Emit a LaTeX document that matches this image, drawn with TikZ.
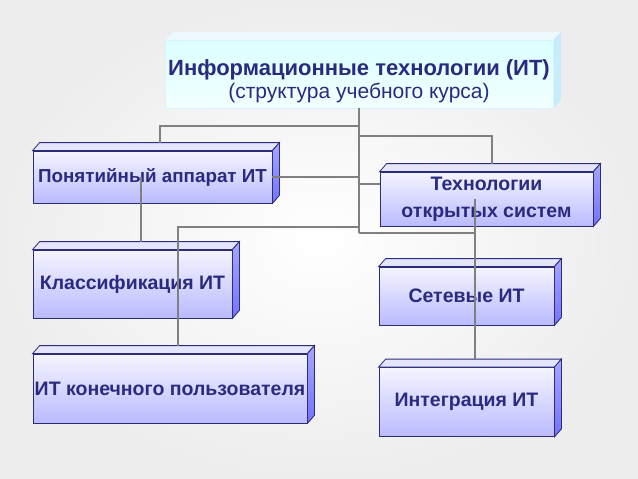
\documentclass[tikz,border=0pt]{standalone}
\usepackage{fontspec}
\setmainfont{Liberation Sans}
\usepackage{tikz}
\usetikzlibrary{calc}
\usepackage{xcolor}
\definecolor{tinte}{RGB}{42,42,128}
\definecolor{kante}{RGB}{44,44,120}
\definecolor{linie}{RGB}{128,128,128}

\begin{document}
\begin{tikzpicture}[x = 1pt, y = -1pt,
    blok/.style = {draw = kante, line width = .8pt, top color = blue!4, bottom color = blue!27!white,
      text = tinte, font = \fontsize{19.5}{27}\selectfont\bfseries, align = center, inner sep = 0},
    verb/.style = {draw = linie, line width = 2pt}]
  \useasboundingbox (0, 0) rectangle (638, 479);
  \shade[inner color = white, outer color = black!7] (0, 0) rectangle (638, 479);
  % kopf
  \fill[cyan!7] (165, 40) -- (173, 32) -- (561, 32) -- (553, 40) -- cycle;
  \fill[cyan!22!white] (553, 40) -- (561, 32) -- (561, 100) -- (553, 108) -- cycle;
  \node[top color = cyan!14!white, bottom color = cyan!5!white, draw = cyan!15!white, text = tinte,
    minimum width = 388, minimum height = 68, inner sep = 0, align = center,
    font = \fontsize{21}{23}\selectfont] (titel) at (359, 74)
    {\rule{0pt}{30pt}{\fontsize{22}{23}\selectfont\bfseries Информационные технологии (ИТ)}\\(структура учебного курса)};
  % bloecke
  \node[blok, minimum width = 239, minimum height = 52, font = \fontsize{18.8}{27}\selectfont\bfseries]
    (ponyat) at (152.5, 177) {Понятийный аппарат ИТ};
  \node[blok, minimum width = 199, minimum height = 68] (klass) at (132.5, 284) {Классификация ИТ};
  \node[blok, minimum width = 274, minimum height = 69] (polz) at (170, 388.5) {ИТ конечного пользователя};
  \node[blok, minimum width = 213, minimum height = 54] (tekhn) at (486.5, 199) {Технологии\\открытых систем};
  \node[blok, minimum width = 175, minimum height = 58] (setev) at (466.5, 296) {Сетевые ИТ};
  \node[blok, minimum width = 175, minimum height = 69] (integr) at (466.5, 402) {Интеграция ИТ};
  \foreach \n in {ponyat, klass, polz, tekhn, setev, integr} {
    \filldraw[draw = kante, line width = .8pt, fill = blue!10!white]
      (\n.north west) -- ++(7, -8) -- ([shift = {(7, -8)}]\n.north east) -- (\n.north east) -- cycle;
    \filldraw[draw = kante, line width = .8pt, top color = blue!35!white, bottom color = blue!55!white]
      (\n.north east) -- ++(7, -8) -- ([shift = {(7, -8)}]\n.south east) -- (\n.south east) -- cycle;
  }
  % verbindungen
  \coordinate (stamm) at (titel.south |- 0, 233);
  \draw[verb] (titel.south) -- (stamm);
  \draw[verb] (titel.south |- 0, 126) -| ([shift = {(7.5, -8)}]ponyat.north);
  \draw[verb] (titel.south |- 0, 136) -| ([shift = {(5.5, -8)}]tekhn.north);
  \draw[verb] (ponyat.east) -- (ponyat.east -| stamm);
  \draw[verb] ([yshift = 15]tekhn.west) -- ([yshift = 15]tekhn.west -| stamm);
  \draw[verb] (titel.south |- 0, 227) -| ([shift = {(8, -8)}]polz.north);
  \draw[verb] (stamm) -| ([shift = {(8.5, -8)}]integr.north);
  \draw[verb] ([xshift = -11.5]tekhn.center) -- ([xshift = -11.5]tekhn.center |- 0, 233);
  \draw[verb] ([xshift = -11.5]ponyat.center) -- ([shift = {(8.5, -8)}]klass.north);
\end{tikzpicture}
\end{document}
